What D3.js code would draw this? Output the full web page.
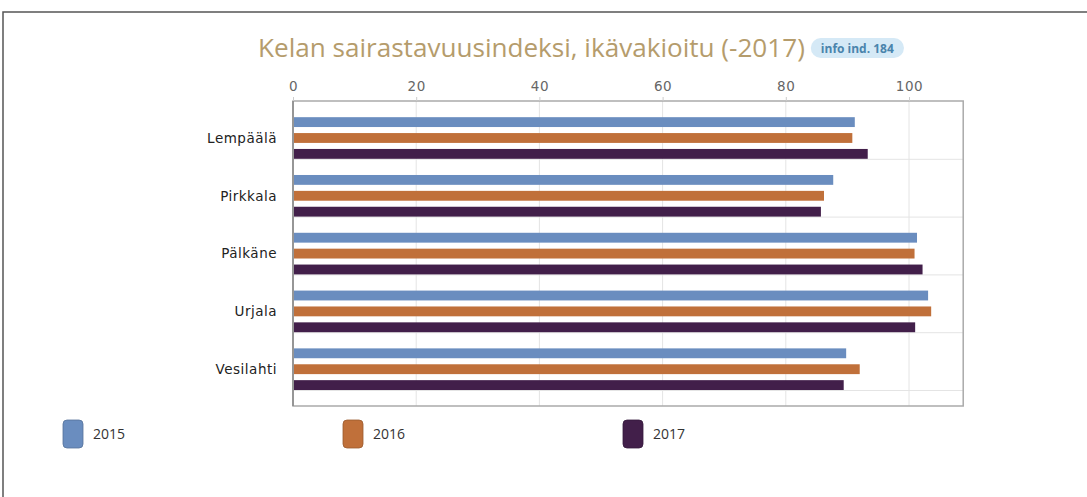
<!DOCTYPE html>
<html>
<head>
<meta charset="utf-8">
<script src="https://cdn.jsdelivr.net/npm/d3@7"></script>
<style>
  body { margin: 0; background: #fff; }
  svg { display: block; }
</style>
</head>
<body>
<div id="chart"></div>
<script>
// data
let municipalities = ['Lempäälä', 'Pirkkala', 'Pälkäne', 'Urjala', 'Vesilahti'];
let years = ['2015', '2016', '2017'];
let values2015 = [91.2, 87.7, 101.3, 103.1, 89.8];
let values2016 = [90.8, 86.2, 100.9, 103.6, 92.0];
let values2017 = [93.3, 85.7, 102.2, 101.0, 89.4];
let xTicks = [0, 20, 40, 60, 80, 100];
let titleText = 'Kelan sairastavuusindeksi, ikävakioitu (-2017)';
let infoText = 'info ind. 184';

let series = [values2015, values2016, values2017];
let colors = ['#6a8dbf', '#c0703a', '#421f4a'];

let width = 1087, height = 497;
let svg = d3.select('#chart').append('svg').attr('width', width).attr('height', height);

// outer frame
svg.append('rect').attr('x', 3).attr('y', 12).attr('width', 1200).attr('height', 600)
   .attr('fill', 'none').attr('stroke', '#555').attr('stroke-width', 1.5);

// scales
let x = d3.scaleLinear().domain([0, 100]).range([293, 909]);
let plotRight = x(108.8);
let plotTop = 101, plotBottom = 406;
let y = d3.scaleBand().domain(municipalities).range([plotTop, 390]);
let sub = d3.scaleBand().domain(years).range([y.bandwidth() * 0.28, y.bandwidth()]).paddingInner(0.38);

// title, sized to span the same width as the original
let title = svg.append('text').attr('x', 258).attr('y', 57)
   .attr('font-family', '"Open Sans", sans-serif').attr('font-size', 24)
   .attr('fill', '#b59c6c').text(titleText);
let tw = title.node().getComputedTextLength();
title.attr('font-size', 24 * 547 / tw);

// info badge
let tb = title.node().getBBox();
let bx = tb.x + tb.width + 6;
let badge = svg.append('g');
let btxt = badge.append('text').attr('x', bx + 10).attr('y', 52.5)
   .attr('font-family', '"Open Sans", sans-serif').attr('font-size', 12).attr('font-weight', 'bold')
   .attr('fill', '#4a84ac').text(infoText);
let bb = btxt.node().getBBox();
badge.insert('rect', 'text').attr('x', bx).attr('y', 38).attr('width', bb.width + 20).attr('height', 20)
   .attr('rx', 10).attr('fill', '#d5e9f6');

// gridlines
let grid = svg.append('g');
grid.selectAll('line.v').data(xTicks.slice(1)).enter().append('line')
    .attr('x1', d => x(d)).attr('x2', d => x(d)).attr('y1', plotTop).attr('y2', plotBottom)
    .attr('stroke', '#e4e4e4').attr('stroke-width', 1);
grid.selectAll('line.h').data(municipalities).enter().append('line')
    .attr('x1', x(0)).attr('x2', plotRight)
    .attr('y1', d => y(d) + y.bandwidth() + 0.5).attr('y2', d => y(d) + y.bandwidth() + 0.5)
    .attr('stroke', '#e4e4e4').attr('stroke-width', 1);

// bars
municipalities.forEach(function (m, i) {
  years.forEach(function (yr, j) {
    svg.append('rect')
       .attr('x', x(0) + 1)
       .attr('y', y(m) + sub(yr))
       .attr('width', x(series[j][i]) - x(0) - 1)
       .attr('height', sub.bandwidth())
       .attr('fill', colors[j]);
  });
});

// plot frame
svg.append('rect').attr('x', x(0)).attr('y', plotTop).attr('width', plotRight - x(0)).attr('height', plotBottom - plotTop)
   .attr('fill', 'none').attr('stroke', '#aaa').attr('stroke-width', 1.5);
svg.append('line').attr('x1', x(0)).attr('x2', x(0)).attr('y1', plotTop).attr('y2', plotBottom)
   .attr('stroke', '#888').attr('stroke-width', 1.5);

// top axis
let xAxis = d3.axisTop(x).tickValues(xTicks).tickSize(4).tickPadding(6);
let gx = svg.append('g').attr('transform', 'translate(0,' + plotTop + ')').call(xAxis);
gx.select('.domain').remove();
gx.selectAll('line').attr('stroke', '#ccc');
gx.selectAll('text').attr('font-family', '"DejaVu Sans", sans-serif').attr('font-size', 13.5)
  .attr('letter-spacing', 0.6).attr('fill', '#666');

// category labels
svg.selectAll('text.cat').data(municipalities).enter().append('text')
   .attr('class', 'cat')
   .attr('x', 277)
   .attr('y', d => y(d) + sub('2016') + sub.bandwidth() / 2)
   .attr('dy', '0.35em')
   .attr('text-anchor', 'end')
   .attr('font-family', '"DejaVu Sans", sans-serif').attr('font-size', 13.5)
   .attr('letter-spacing', 0.5)
   .attr('fill', '#222').text(d => d);

// legend
let legend = svg.selectAll('g.leg').data(years).enter().append('g')
   .attr('class', 'leg')
   .attr('transform', (d, i) => 'translate(' + (63 + i * 280) + ',420)');
legend.append('rect').attr('width', 20).attr('height', 28).attr('rx', 4)
   .attr('fill', (d, i) => colors[i]).attr('stroke', (d, i) => d3.color(colors[i]).darker(0.6)).attr('stroke-width', 0.8);
legend.append('text').attr('x', 30).attr('y', 14).attr('dy', '0.35em')
   .attr('font-family', '"Open Sans", sans-serif').attr('font-size', 14)
   .attr('fill', '#333').text(d => d);
</script>
</body>
</html>
